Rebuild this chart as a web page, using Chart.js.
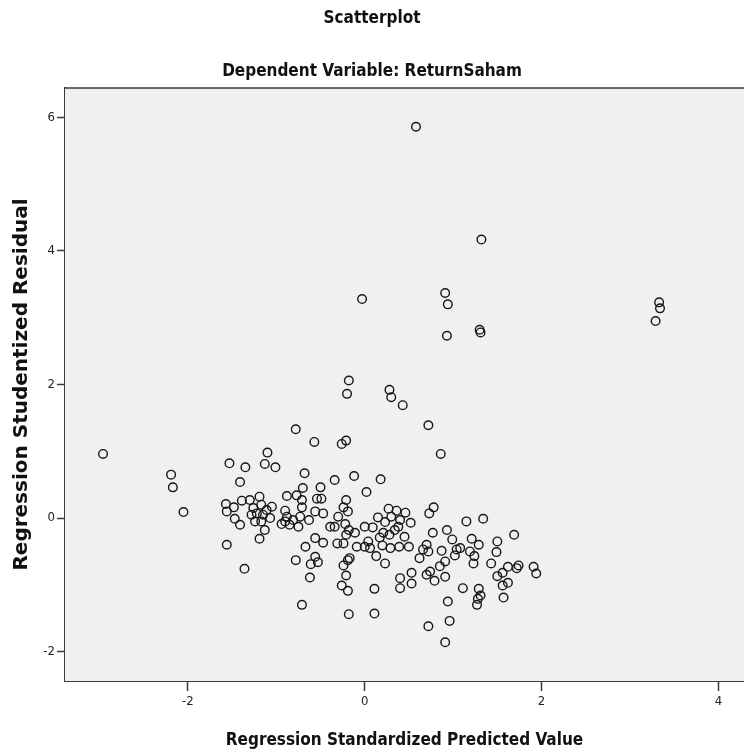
<!DOCTYPE html>
<html>
<head>
<meta charset="utf-8">
<script src="https://cdn.jsdelivr.net/npm/chart.js@4.4.1/dist/chart.umd.min.js"></script>
<style>
  html, body { margin: 0; padding: 0; background: #ffffff; }
  #wrap { width: 744px; height: 755px; }
</style>
</head>
<body>
<div id="wrap"><canvas id="c" width="744" height="755"></canvas></div>
<script>
const chartTitle = "Scatterplot";
const chartSubtitle = "Dependent Variable: ReturnSaham";
const xAxisTitle = "Regression Standardized Predicted Value";
const yAxisTitle = "Regression Studentized Residual";
const xTickValues = [-2, 0, 2, 4];
const yTickValues = [-2, 0, 2, 4, 6];

const predictedValue = [
  -2.96, -2.19, -2.17, -2.05, -1.53, -1.56, -1.57, -1.56, -1.48, -1.47,
  -1.41, -1.41, -0.78, -0.57, -0.26, -0.21, -1.10, -1.35, -1.13, -1.01,
  -0.68, -0.34, -0.12, 0.02, -0.70, -0.50, -0.88, -0.77, -0.54, -0.49,
  -1.39, -1.30, -1.26, -1.19, -1.17, -1.22, -1.28, -1.15, -1.11, -1.05,
  -1.07, -1.17, -1.13, -1.24, -0.90, -1.19, -0.94, -0.88, -0.81, -0.73,
  -0.75, -0.71, -0.71, -0.63, -0.56, -0.47, -0.56, -0.47, -0.67, -0.39,
  -0.34, -0.30, -0.21, -0.24, -0.19, -0.22, -0.18, -0.11, -0.21, -0.31,
  -0.24, -0.09, 0.00, 0.00, -0.90, -0.85, -1.36, -0.78, -0.56, -0.61,
  -0.53, -0.62, -0.71, -0.17, -0.19, -0.24, -0.21, -0.26, -0.19, -0.18,
  0.72, 0.86, 0.18, 0.78, 0.73, 0.27, 0.36, 0.46, 0.15, 0.30,
  0.40, 0.52, 0.09, 0.21, 0.28, 0.38, 0.45, 1.15, 1.34, 1.69,
  0.77, 0.93, 0.99, 1.21, 1.29, 1.50, 1.49, 1.08, 1.04, 0.70,
  0.66, 0.72, 0.87, 1.19, 0.04, 0.06, 0.20, 0.29, 0.39, 0.50,
  0.13, 0.23, 0.34, 0.17, 0.23, 0.11, 0.11, 0.40, 0.40, 0.53,
  0.53, 0.62, 0.74, 0.70, 0.79, 0.85, 0.91, 0.91, 1.02, 1.23,
  1.24, 1.43, 1.11, 0.94, 0.96, 0.72, 0.91, 1.29, 1.28, 1.31,
  1.27, 1.50, 1.56, 1.62, 1.72, 1.74, 1.91, 1.94, 1.56, 1.62,
  1.57, -0.18, -0.20, 0.28, 0.30, 0.43, 0.58, 1.32, -0.03, 0.91,
  0.94, 0.93, 1.30, 1.31, 3.33, 3.34, 3.29
];

const studentizedResidual = [
  0.96, 0.65, 0.46, 0.09, 0.82, -0.40, 0.21, 0.10, 0.16, -0.01,
  -0.10, 0.54, 1.33, 1.14, 1.11, 1.16, 0.98, 0.76, 0.81, 0.76,
  0.67, 0.57, 0.63, 0.39, 0.45, 0.46, 0.33, 0.34, 0.29, 0.29,
  0.26, 0.27, 0.15, 0.32, 0.20, 0.07, 0.05, 0.05, 0.12, 0.17,
  0.00, -0.05, -0.18, -0.05, -0.05, -0.31, -0.09, 0.02, -0.03, 0.02,
  -0.13, 0.16, 0.27, -0.03, 0.10, 0.07, -0.30, -0.37, -0.43, -0.13,
  -0.13, 0.02, 0.27, 0.16, 0.10, -0.09, -0.18, -0.22, -0.25, -0.38,
  -0.38, -0.43, -0.13, -0.43, 0.11, -0.10, -0.76, -0.63, -0.58, -0.69,
  -0.66, -0.89, -1.30, -0.60, -0.63, -0.71, -0.86, -1.01, -1.09, -1.44,
  1.39, 0.96, 0.58, 0.16, 0.07, 0.14, 0.11, 0.08, 0.01, 0.02,
  -0.03, -0.07, -0.14, -0.22, -0.25, -0.13, -0.28, -0.05, -0.01, -0.25,
  -0.22, -0.18, -0.32, -0.31, -0.40, -0.35, -0.51, -0.45, -0.47, -0.40,
  -0.47, -0.50, -0.49, -0.50, -0.35, -0.45, -0.41, -0.45, -0.43, -0.43,
  -0.57, -0.06, -0.18, -0.29, -0.68, -1.06, -1.43, -0.90, -1.05, -0.82,
  -0.98, -0.60, -0.80, -0.85, -0.94, -0.72, -0.65, -0.88, -0.56, -0.68,
  -0.57, -0.68, -1.05, -1.25, -1.54, -1.62, -1.86, -1.06, -1.21, -1.16,
  -1.30, -0.87, -0.82, -0.73, -0.75, -0.71, -0.73, -0.83, -1.01, -0.97,
  -1.19, 2.06, 1.86, 1.92, 1.81, 1.69, 5.86, 4.17, 3.28, 3.37,
  3.20, 2.73, 2.82, 2.78, 3.23, 3.14, 2.95
];

const points = predictedValue.map((v, i) => ({ x: v, y: studentizedResidual[i] }));

const plotFrame = {
  id: 'plotFrame',
  beforeDatasetsDraw(chart) {
    const { ctx, chartArea: a } = chart;
    ctx.save();
    ctx.fillStyle = '#f0f0f0';
    ctx.fillRect(a.left, a.top, a.right - a.left, a.bottom - a.top);
    ctx.strokeStyle = '#3a3a3a';
    ctx.lineWidth = 1.5;
    ctx.beginPath();
    ctx.moveTo(a.left, a.top);
    ctx.lineTo(a.right, a.top);
    ctx.stroke();
    ctx.restore();
  }
};

const narrow = "'DejaVu Sans Condensed', 'Liberation Sans', sans-serif";
const wide = "'DejaVu Sans', 'Liberation Sans', sans-serif";

new Chart(document.getElementById('c'), {
  type: 'scatter',
  data: {
    datasets: [{
      data: points,
      pointStyle: 'circle',
      pointRadius: 4.3,
      pointHoverRadius: 4.3,
      borderColor: '#161616',
      backgroundColor: 'rgba(0,0,0,0)',
      borderWidth: 1.4
    }]
  },
  plugins: [plotFrame],
  options: {
    responsive: false,
    animation: false,
    devicePixelRatio: 1,
    layout: { autoPadding: false, padding: { left: 0, right: 0, top: 0, bottom: 0 } },
    plugins: {
      legend: { display: false },
      tooltip: { enabled: false },
      title: {
        display: true,
        text: chartTitle,
        color: '#111',
        font: { family: narrow, size: 17, weight: 'bold', lineHeight: 1.2 },
        padding: { top: 8, bottom: 33 }
      },
      subtitle: {
        display: true,
        text: chartSubtitle,
        color: '#111',
        font: { family: narrow, size: 17, weight: 'bold', lineHeight: 1.2 },
        padding: { top: 0, bottom: 6.2 }
      }
    },
    scales: {
      x: {
        type: 'linear',
        min: -3.39,
        max: 4.29,
        afterBuildTicks(scale) { scale.ticks = xTickValues.map(v => ({ value: v })); },
        afterFit(scale) {
          scale.height = 74;
          scale.paddingLeft = 0;
          scale.paddingRight = 0;
        },
        ticks: {
          color: '#222',
          font: { family: narrow, size: 13 },
          padding: 3,
          maxRotation: 0,
          autoSkip: false
        },
        grid: {
          drawOnChartArea: false,
          drawTicks: true,
          tickLength: 10,
          tickColor: '#3a3a3a',
          tickWidth: 1.5
        },
        border: { display: true, color: '#3a3a3a', width: 2 },
        title: {
          display: true,
          text: xAxisTitle,
          color: '#111',
          font: { family: narrow, size: 17, weight: 'bold', lineHeight: 1.2 },
          padding: { top: 0, bottom: 4 }
        }
      },
      y: {
        type: 'linear',
        min: -2.44,
        max: 6.44,
        afterBuildTicks(scale) { scale.ticks = yTickValues.map(v => ({ value: v })); },
        afterFit(scale) {
          scale.width = 65;
          scale.paddingTop = 0;
          scale.paddingBottom = 0;
        },
        ticks: {
          color: '#222',
          font: { family: narrow, size: 13 },
          padding: 2,
          autoSkip: false
        },
        grid: {
          drawOnChartArea: false,
          drawTicks: true,
          tickLength: 8,
          tickColor: '#3a3a3a',
          tickWidth: 1.5
        },
        border: { display: true, color: '#3a3a3a', width: 2 },
        title: {
          display: true,
          text: yAxisTitle,
          color: '#111',
          font: { family: wide, size: 20, weight: 'bold', lineHeight: 1.2 },
          padding: { top: 10, bottom: 0 }
        }
      }
    }
  }
});
</script>
</body>
</html>
